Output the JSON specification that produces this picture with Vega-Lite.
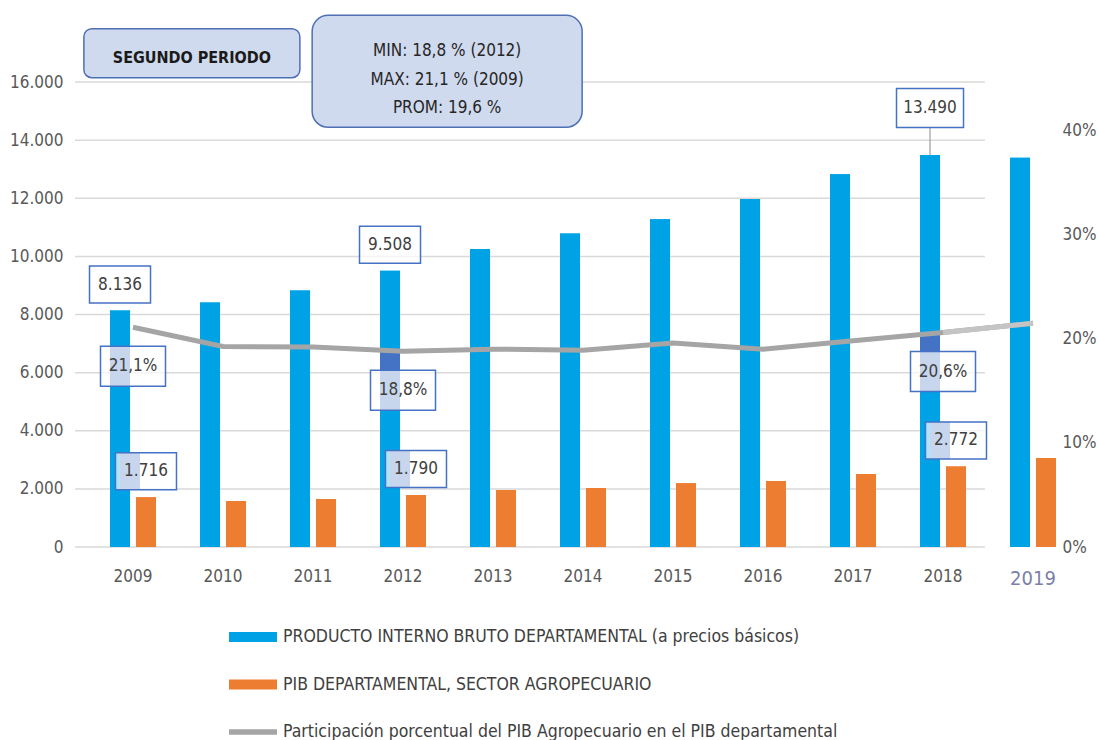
{
  "$schema": "https://vega.github.io/schema/vega-lite/v6.json",
  "width": 990,
  "height": 465,
  "autosize": {"type": "none"},
  "padding": {"left": 88, "top": 82, "right": 20, "bottom": 193},
  "background": "white",
  "config": {
    "font": "DejaVu Sans Condensed",
    "view": {"stroke": null},
    "locale": {"number": {"decimal": ",", "thousands": ".", "grouping": [3], "currency": ["$", ""]}},
    "axis": {"labelFont": "DejaVu Sans Condensed", "labelFontSize": 17, "labelColor": "#595959", "domain": false, "ticks": false, "grid": false}
  },
  "datasets": {
    "bars": [
      {"year": "2009", "serie": "PRODUCTO INTERNO BRUTO DEPARTAMENTAL (a precios básicos)", "value": 8136},
      {"year": "2009", "serie": "PIB DEPARTAMENTAL, SECTOR AGROPECUARIO", "value": 1716},
      {"year": "2010", "serie": "PRODUCTO INTERNO BRUTO DEPARTAMENTAL (a precios básicos)", "value": 8410},
      {"year": "2010", "serie": "PIB DEPARTAMENTAL, SECTOR AGROPECUARIO", "value": 1580},
      {"year": "2011", "serie": "PRODUCTO INTERNO BRUTO DEPARTAMENTAL (a precios básicos)", "value": 8830},
      {"year": "2011", "serie": "PIB DEPARTAMENTAL, SECTOR AGROPECUARIO", "value": 1650},
      {"year": "2012", "serie": "PRODUCTO INTERNO BRUTO DEPARTAMENTAL (a precios básicos)", "value": 9508},
      {"year": "2012", "serie": "PIB DEPARTAMENTAL, SECTOR AGROPECUARIO", "value": 1790},
      {"year": "2013", "serie": "PRODUCTO INTERNO BRUTO DEPARTAMENTAL (a precios básicos)", "value": 10250},
      {"year": "2013", "serie": "PIB DEPARTAMENTAL, SECTOR AGROPECUARIO", "value": 1960},
      {"year": "2014", "serie": "PRODUCTO INTERNO BRUTO DEPARTAMENTAL (a precios básicos)", "value": 10790},
      {"year": "2014", "serie": "PIB DEPARTAMENTAL, SECTOR AGROPECUARIO", "value": 2030},
      {"year": "2015", "serie": "PRODUCTO INTERNO BRUTO DEPARTAMENTAL (a precios básicos)", "value": 11280},
      {"year": "2015", "serie": "PIB DEPARTAMENTAL, SECTOR AGROPECUARIO", "value": 2190},
      {"year": "2016", "serie": "PRODUCTO INTERNO BRUTO DEPARTAMENTAL (a precios básicos)", "value": 11970},
      {"year": "2016", "serie": "PIB DEPARTAMENTAL, SECTOR AGROPECUARIO", "value": 2270},
      {"year": "2017", "serie": "PRODUCTO INTERNO BRUTO DEPARTAMENTAL (a precios básicos)", "value": 12830},
      {"year": "2017", "serie": "PIB DEPARTAMENTAL, SECTOR AGROPECUARIO", "value": 2510},
      {"year": "2018", "serie": "PRODUCTO INTERNO BRUTO DEPARTAMENTAL (a precios básicos)", "value": 13490},
      {"year": "2018", "serie": "PIB DEPARTAMENTAL, SECTOR AGROPECUARIO", "value": 2772},
      {"year": "2019", "serie": "PRODUCTO INTERNO BRUTO DEPARTAMENTAL (a precios básicos)", "value": 13390},
      {"year": "2019", "serie": "PIB DEPARTAMENTAL, SECTOR AGROPECUARIO", "value": 3060}
    ],
    "pct": [
      {"year": "2009", "pct": 0.211},
      {"year": "2010", "pct": 0.1925},
      {"year": "2011", "pct": 0.192},
      {"year": "2012", "pct": 0.188},
      {"year": "2013", "pct": 0.19},
      {"year": "2014", "pct": 0.189},
      {"year": "2015", "pct": 0.196},
      {"year": "2016", "pct": 0.19},
      {"year": "2017", "pct": 0.198},
      {"year": "2018", "pct": 0.206},
      {"year": "2019", "pct": 0.215}
    ],
    "grid": [
      {"g": 0}, {"g": 2000}, {"g": 4000}, {"g": 6000}, {"g": 8000},
      {"g": 10000}, {"g": 12000}, {"g": 14000}, {"g": 16000}
    ],
    "notes": [
      {"id": "seg", "text": "SEGUNDO PERIODO"},
      {"id": "stats", "text": "MIN: 18,8 % (2012)\nMAX: 21,1 % (2009)\nPROM: 19,6 %"}
    ]
  },
  "layer": [
    {
      "layer": [
        {
          "data": {"name": "bars"},
          "mark": {"type": "bar"},
          "encoding": {
            "x": {
              "field": "year", "type": "nominal",
              "scale": {"domain": ["2009","2010","2011","2012","2013","2014","2015","2016","2017","2018","2019"], "paddingInner": 0.489, "paddingOuter": 0.2445},
              "axis": {
                "title": null, "labelAngle": 0, "labelPadding": 21,
                "labelColor": {"condition": {"test": "datum.value === '2019'", "value": "#7A80AA"}, "value": "#595959"},
                "labelFontSize": {"condition": {"test": "datum.value === '2019'", "value": 20}, "value": 17}
              }
            },
            "xOffset": {"field": "serie", "type": "nominal", "scale": {"domain": ["PRODUCTO INTERNO BRUTO DEPARTAMENTAL (a precios básicos)", "PIB DEPARTAMENTAL, SECTOR AGROPECUARIO"], "paddingInner": 0.23, "paddingOuter": 0}},
            "y": {
              "field": "value", "type": "quantitative",
              "scale": {"domain": [0, 16000], "nice": false},
              "axis": {"title": null, "values": [0,2000,4000,6000,8000,10000,12000,14000,16000], "format": ",.0f", "labelPadding": 25}
            },
            "color": {
              "field": "serie", "type": "nominal",
              "scale": {
                "domain": ["PRODUCTO INTERNO BRUTO DEPARTAMENTAL (a precios básicos)", "PIB DEPARTAMENTAL, SECTOR AGROPECUARIO", "Participación porcentual del PIB Agropecuario en el PIB departamental"],
                "range": ["#00A2E6", "#ED7D31", "#A5A5A5"]
              },
              "legend": {
                "title": null, "orient": "none", "legendX": 141, "legendY": 531, "direction": "vertical",
                "symbolSize": 2304, "symbolStrokeWidth": 0, "labelFontSize": 17.5, "labelColor": "#404040",
                "labelFont": "DejaVu Sans Condensed", "labelLimit": 0, "rowPadding": 14.5, "labelOffset": 6,
                "encode": {
                  "symbols": {
                    "update": {
                      "shape": {"signal": "indexof(datum.value, 'Participación') === 0 ? 'M-1,-0.11H1V0.11H-1Z' : 'M-1,-0.21H1V0.21H-1Z'"},
                      "fill": {"scale": "color", "field": "value"},
                      "opacity": {"value": 1}
                    }
                  }
                }
              }
            }
          }
        },
        {
          "data": {"name": "grid"},
          "mark": {"type": "rule", "color": "#D9D9D9", "strokeWidth": 1.5},
          "encoding": {
            "x": {"datum": "2009", "type": "nominal", "bandPosition": -0.76},
            "x2": {"datum": "2018", "bandPosition": 1.41},
            "y": {"field": "g", "type": "quantitative", "axis": {"title": null}}
          }
        },
        {
          "data": {"name": "bars"},
          "mark": {"type": "bar"},
          "encoding": {
            "x": {"field": "year", "type": "nominal"},
            "xOffset": {"field": "serie", "type": "nominal"},
            "y": {"field": "value", "type": "quantitative", "axis": {"title": null}},
            "color": {"field": "serie", "type": "nominal"}
          }
        },
        {
          "data": {"name": "bars"},
          "transform": [{"filter": "(datum.year === '2009' || datum.year === '2012' || datum.year === '2018') && datum.serie === 'PIB DEPARTAMENTAL, SECTOR AGROPECUARIO'"}],
          "mark": {"type": "point", "shape": "M-1.3,-2.225H-0.3V-0.375H-1.3Z", "size": 1600, "filled": true, "fill": "#4472C4", "strokeWidth": 0, "opacity": 1},
          "encoding": {
            "x": {"field": "year", "type": "nominal"},
            "xOffset": {"field": "serie", "type": "nominal"},
            "y": {"field": "value", "type": "quantitative"}
          }
        },
        {
          "data": {"name": "bars"},
          "transform": [{"filter": "datum.year === '2009' || datum.year === '2012' || (datum.year === '2018' && datum.serie === 'PIB DEPARTAMENTAL, SECTOR AGROPECUARIO')"}],
          "mark": {"type": "point", "shape": "M-1,-1.459H1V-0.245H-1Z", "size": 3721, "filled": true, "fill": "white", "fillOpacity": 0.7, "stroke": "#4472C4", "strokeWidth": 1.5, "strokeOpacity": 1, "opacity": 1},
          "encoding": {
            "x": {"field": "year", "type": "nominal"},
            "xOffset": {"field": "serie", "type": "nominal"},
            "y": {"field": "value", "type": "quantitative"}
          }
        },
        {
          "data": {"name": "bars"},
          "transform": [{"filter": "datum.year === '2009' || datum.year === '2012' || (datum.year === '2018' && datum.serie === 'PIB DEPARTAMENTAL, SECTOR AGROPECUARIO')"}],
          "mark": {"type": "text", "dy": -26, "baseline": "middle", "align": "center", "fontSize": 17, "color": "#404040"},
          "encoding": {
            "x": {"field": "year", "type": "nominal"},
            "xOffset": {"field": "serie", "type": "nominal"},
            "y": {"field": "value", "type": "quantitative"},
            "text": {"field": "value", "type": "quantitative", "format": ",.0f"}
          }
        },
        {
          "data": {"name": "bars"},
          "transform": [{"filter": "datum.year === '2018' && datum.serie === 'PRODUCTO INTERNO BRUTO DEPARTAMENTAL (a precios básicos)'"}],
          "mark": {"type": "point", "shape": "M0,-0.821V0", "size": 4489, "filled": false, "stroke": "#A6A6A6", "strokeWidth": 1.3, "opacity": 1},
          "encoding": {
            "x": {"field": "year", "type": "nominal"},
            "xOffset": {"field": "serie", "type": "nominal"},
            "y": {"field": "value", "type": "quantitative"}
          }
        },
        {
          "data": {"name": "bars"},
          "transform": [{"filter": "datum.year === '2018' && datum.serie === 'PRODUCTO INTERNO BRUTO DEPARTAMENTAL (a precios básicos)'"}],
          "mark": {"type": "point", "shape": "M-1,-1.985H1V-0.821H-1Z", "size": 4489, "filled": true, "fill": "white", "stroke": "#4472C4", "strokeWidth": 1.5, "opacity": 1},
          "encoding": {
            "x": {"field": "year", "type": "nominal"},
            "xOffset": {"field": "serie", "type": "nominal"},
            "y": {"field": "value", "type": "quantitative"}
          }
        },
        {
          "data": {"name": "bars"},
          "transform": [{"filter": "datum.year === '2018' && datum.serie === 'PRODUCTO INTERNO BRUTO DEPARTAMENTAL (a precios básicos)'"}],
          "mark": {"type": "text", "dy": -47, "baseline": "middle", "align": "center", "fontSize": 17, "color": "#404040"},
          "encoding": {
            "x": {"field": "year", "type": "nominal"},
            "xOffset": {"field": "serie", "type": "nominal"},
            "y": {"field": "value", "type": "quantitative"},
            "text": {"field": "value", "type": "quantitative", "format": ",.0f"}
          }
        },
        {
          "data": {"name": "notes"},
          "transform": [{"filter": "datum.id === 'seg'"}],
          "mark": {"type": "point", "shape": "M-0.926,-0.227H0.926A0.074,0.074 0 0 1 1,-0.153V0.153A0.074,0.074 0 0 1 0.926,0.227H-0.926A0.074,0.074 0 0 1 -1,0.153V-0.153A0.074,0.074 0 0 1 -0.926,-0.227Z", "size": 46656, "filled": true, "fill": "#D0DAEE", "stroke": "#4F6FB5", "strokeWidth": 1.5, "opacity": 1},
          "encoding": {
            "x": {"datum": "2009", "type": "nominal", "bandPosition": 1.78},
            "y": {"datum": 16990, "type": "quantitative"}
          }
        },
        {
          "data": {"name": "notes"},
          "transform": [{"filter": "datum.id === 'seg'"}],
          "mark": {"type": "text", "baseline": "middle", "align": "center", "fontSize": 16, "fontWeight": "bold", "color": "#1A1A1A"},
          "encoding": {
            "x": {"datum": "2009", "type": "nominal", "bandPosition": 1.78},
            "y": {"datum": 16814, "type": "quantitative"},
            "text": {"field": "text", "type": "nominal"}
          }
        },
        {
          "data": {"name": "notes"},
          "transform": [{"filter": "datum.id === 'stats'"}],
          "mark": {"type": "point", "shape": "M-0.881,-0.415H0.881A0.119,0.119 0 0 1 1,-0.296V0.296A0.119,0.119 0 0 1 0.881,0.415H-0.881A0.119,0.119 0 0 1 -1,0.296V-0.296A0.119,0.119 0 0 1 -0.881,-0.415Z", "size": 72900, "filled": true, "fill": "#D0DAEE", "stroke": "#4F6FB5", "strokeWidth": 1.5, "opacity": 1},
          "encoding": {
            "x": {"datum": "2012", "type": "nominal", "bandPosition": 1.46},
            "y": {"datum": 16368, "type": "quantitative"}
          }
        },
        {
          "data": {"name": "notes"},
          "transform": [{"filter": "datum.id === 'stats'"}],
          "mark": {"type": "text", "baseline": "middle", "align": "center", "fontSize": 17, "lineBreak": "\n", "lineHeight": 28.5, "color": "#262626"},
          "encoding": {
            "x": {"datum": "2012", "type": "nominal", "bandPosition": 1.46},
            "y": {"datum": 17050, "type": "quantitative"},
            "text": {"field": "text", "type": "nominal"}
          }
        }
      ]
    },
    {
      "data": {"name": "pct"},
      "layer": [
        {
          "transform": [{"filter": "datum.year === '2012' || datum.year === '2018'"}],
          "mark": {"type": "point", "shape": "M-1.15,0H-0.15V2.95H-1.15Z", "size": 1600, "filled": true, "fill": "#4472C4", "strokeWidth": 0, "opacity": 1},
          "encoding": {
            "x": {"field": "year", "type": "nominal"},
            "y": {"field": "pct", "type": "quantitative"}
          }
        },
        {
          "transform": [{"filter": "datum.year === '2009'"}],
          "mark": {"type": "point", "shape": "M-1.15,0.95H-0.15V2.95H-1.15Z", "size": 1600, "filled": true, "fill": "#4472C4", "strokeWidth": 0, "opacity": 1},
          "encoding": {
            "x": {"field": "year", "type": "nominal"},
            "y": {"field": "pct", "type": "quantitative"}
          }
        },
        {
          "mark": {"type": "line", "strokeWidth": 5},
          "encoding": {
            "x": {"field": "year", "type": "nominal"},
            "y": {
              "field": "pct", "type": "quantitative",
              "scale": {"domain": [0, 0.4466], "nice": false},
              "axis": {"title": null, "orient": "right", "values": [0, 0.1, 0.2, 0.3, 0.4], "format": ".0%", "offset": -16, "labelPadding": 0}
            },
            "color": {"datum": "Participación porcentual del PIB Agropecuario en el PIB departamental", "type": "nominal"}
          }
        },
        {
          "transform": [{"filter": "datum.year === '2018' || datum.year === '2019'"}],
          "mark": {"type": "line", "strokeWidth": 5, "color": "#C4C4C4"},
          "encoding": {
            "x": {"field": "year", "type": "nominal"},
            "y": {"field": "pct", "type": "quantitative"}
          }
        },
        {
          "transform": [{"filter": "datum.year === '2009' || datum.year === '2012' || datum.year === '2018'"}],
          "mark": {"type": "point", "shape": "M-1,0.585H1V1.815H-1Z", "size": 4225, "filled": true, "fill": "white", "fillOpacity": 0.7, "stroke": "#4472C4", "strokeWidth": 1.5, "strokeOpacity": 1, "opacity": 1},
          "encoding": {
            "x": {"field": "year", "type": "nominal"},
            "y": {"field": "pct", "type": "quantitative"}
          }
        },
        {
          "transform": [{"filter": "datum.year === '2009' || datum.year === '2012' || datum.year === '2018'"}],
          "mark": {"type": "text", "dy": 39, "baseline": "middle", "align": "center", "fontSize": 17, "color": "#404040"},
          "encoding": {
            "x": {"field": "year", "type": "nominal"},
            "y": {"field": "pct", "type": "quantitative"},
            "text": {"field": "pct", "type": "quantitative", "format": ".1%"}
          }
        }
      ]
    }
  ],
  "resolve": {"scale": {"y": "independent"}}
}
